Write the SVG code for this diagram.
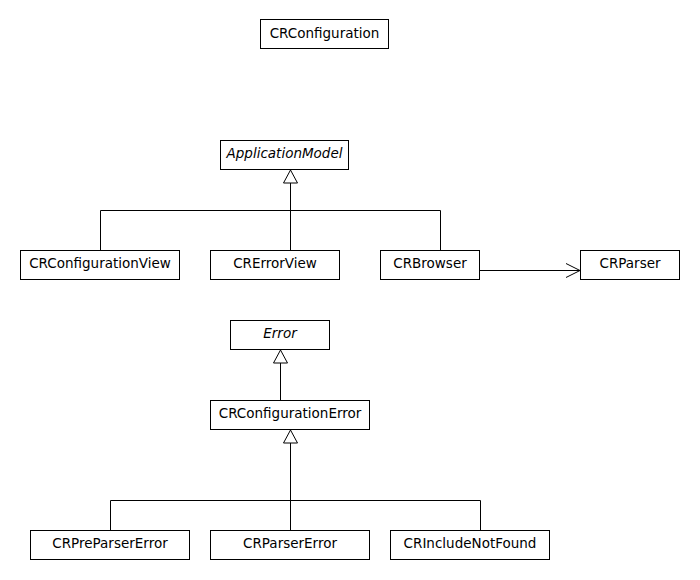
<svg xmlns="http://www.w3.org/2000/svg" width="700" height="580" viewBox="0 0 700 580">
  <style>
    .box { fill: #ffffff; stroke: #000000; stroke-width: 1; }
    .lbl { font-family: "DejaVu Sans", sans-serif; font-size: 13.5px; fill: #000000; text-anchor: middle; }
    .abs { font-style: italic; }
    .edge { fill: none; stroke: #000000; stroke-width: 1; }
    .gen { fill: #ffffff; stroke: #000000; stroke-width: 1; }
  </style>
  <rect width="700" height="580" fill="#ffffff"/>

  <!-- connectors -->
  <g id="connectors">
    <!-- ApplicationModel hierarchy -->
    <path class="edge" d="M290.5,183 V250 M100.5,250 V210.5 H440.5 V250"/>
    <polygon class="gen" points="290.5,170 283.5,183 297.5,183"/>
    <!-- CRBrowser -> CRParser -->
    <path class="edge" d="M480,270.5 H580 M566,263.5 L580,270.5 L566,277.5"/>
    <!-- Error hierarchy -->
    <path class="edge" d="M280.5,363 V400"/>
    <polygon class="gen" points="280.5,350 273.5,363 287.5,363"/>
    <path class="edge" d="M290.5,443 V530 M110.5,530 V500.5 H480.5 V530"/>
    <polygon class="gen" points="290.5,430 283.5,443 297.5,443"/>
  </g>

  <g id="CRConfiguration">
    <rect class="box" x="260.5" y="19.5" width="128" height="29"/>
    <text class="lbl" x="324.5" y="38">CRConfiguration</text>
  </g>
  <g id="ApplicationModel">
    <rect class="box" x="220.5" y="140.5" width="128" height="29"/>
    <text class="lbl abs" x="284.5" y="158">ApplicationModel</text>
  </g>
  <g id="CRConfigurationView">
    <rect class="box" x="20.5" y="250.5" width="159" height="29"/>
    <text class="lbl" x="100" y="268">CRConfigurationView</text>
  </g>
  <g id="CRErrorView">
    <rect class="box" x="210.5" y="250.5" width="129" height="29"/>
    <text class="lbl" x="275" y="268">CRErrorView</text>
  </g>
  <g id="CRBrowser">
    <rect class="box" x="380.5" y="250.5" width="99" height="29"/>
    <text class="lbl" x="430" y="268">CRBrowser</text>
  </g>
  <g id="CRParser">
    <rect class="box" x="580.5" y="250.5" width="99" height="29"/>
    <text class="lbl" x="630" y="268">CRParser</text>
  </g>
  <g id="Error">
    <rect class="box" x="230.5" y="320.5" width="99" height="29"/>
    <text class="lbl abs" x="280" y="338">Error</text>
  </g>
  <g id="CRConfigurationError">
    <rect class="box" x="210.5" y="400.5" width="159" height="29"/>
    <text class="lbl" x="290" y="418">CRConfigurationError</text>
  </g>
  <g id="CRPreParserError">
    <rect class="box" x="30.5" y="530.5" width="159" height="29"/>
    <text class="lbl" x="110" y="548">CRPreParserError</text>
  </g>
  <g id="CRParserError">
    <rect class="box" x="210.5" y="530.5" width="159" height="29"/>
    <text class="lbl" x="290" y="548">CRParserError</text>
  </g>
  <g id="CRIncludeNotFound">
    <rect class="box" x="390.5" y="530.5" width="159" height="29"/>
    <text class="lbl" x="470" y="548">CRIncludeNotFound</text>
  </g>
</svg>
